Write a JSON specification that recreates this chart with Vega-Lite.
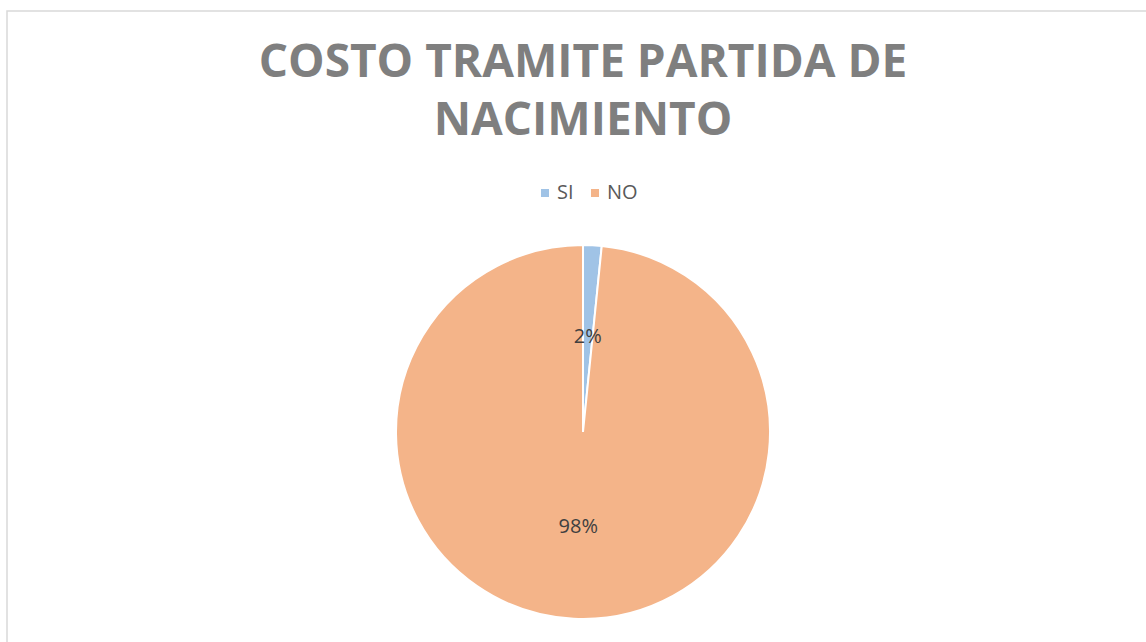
{
  "$schema": "https://vega.github.io/schema/vega-lite/v6.json",
  "autosize": {"type": "none"},
  "padding": {"left": 7, "top": 11, "right": 0, "bottom": 0},
  "width": 1152,
  "height": 842,
  "background": "white",
  "view": {"stroke": "#d9d9d9", "strokeWidth": 1.5, "fill": "white"},
  "config": {
    "font": "Open Sans"
  },
  "title": {
    "text": ["COSTO TRAMITE PARTIDA DE", "NACIMIENTO"],
    "font": "Open Sans",
    "fontSize": 46,
    "fontWeight": "bold",
    "color": "#7f7f7f",
    "lineHeight": 58,
    "anchor": "middle",
    "offset": -134
  },
  "data": {
    "values": [
      {"respuesta": "SI", "porcentaje": 0.016},
      {"respuesta": "NO", "porcentaje": 0.984}
    ]
  },
  "encoding": {
    "theta": {"field": "porcentaje", "type": "quantitative", "stack": true},
    "order": {"field": "porcentaje", "type": "quantitative", "sort": "ascending"},
    "color": {
      "field": "respuesta",
      "type": "nominal",
      "sort": ["SI", "NO"],
      "scale": {"domain": ["SI", "NO"], "range": ["#a0c3e6", "#f4b489"]},
      "legend": {
        "title": null,
        "orient": "none",
        "direction": "horizontal",
        "legendX": 528,
        "legendY": 172,
        "padding": 0,
        "symbolType": "square",
        "symbolSize": 64,
        "symbolStrokeWidth": 0,
        "labelFont": "Open Sans",
        "labelFontSize": 20,
        "labelColor": "#595959",
        "columnPadding": 11,
        "labelOffset": 2
      }
    }
  },
  "layer": [
    {"mark": {"type": "arc", "radius": 187, "stroke": "white", "strokeWidth": 2}},
    {
      "mark": {"type": "text", "radius": 95, "font": "Open Sans", "fontSize": 20},
      "encoding": {
        "text": {"field": "porcentaje", "type": "quantitative", "format": ".0%"},
        "color": {"value": "#404040"}
      }
    }
  ]
}
